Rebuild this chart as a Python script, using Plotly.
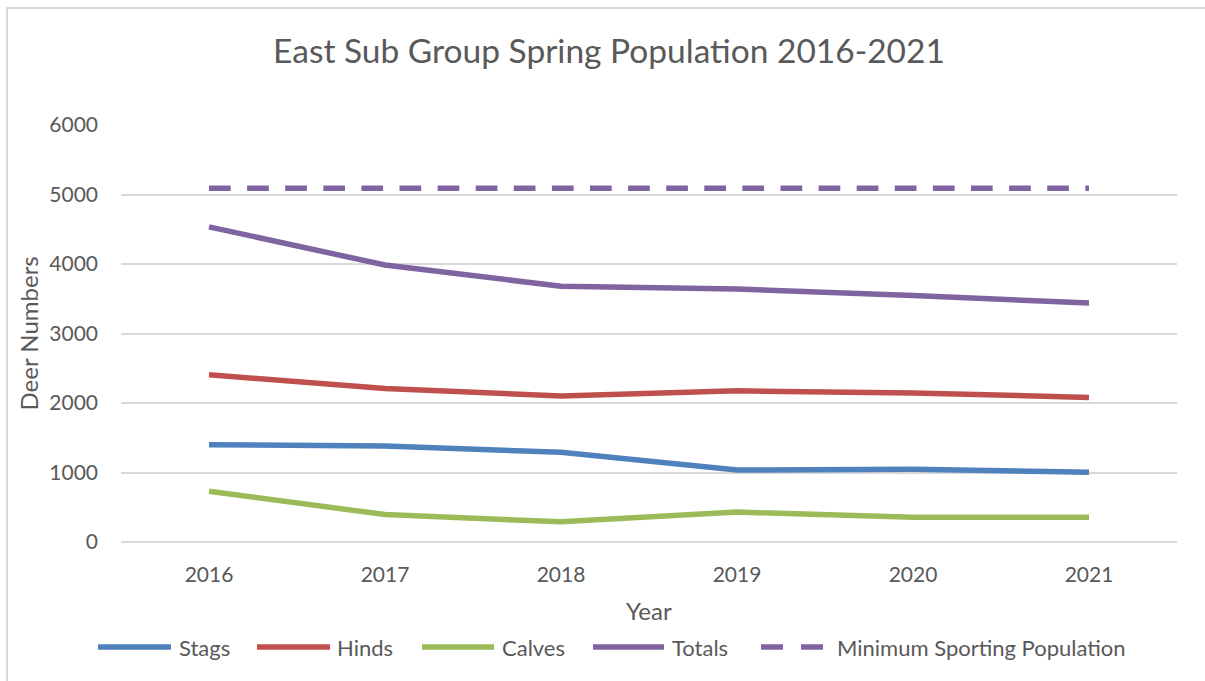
import plotly.graph_objects as go

# Spring counts for the East Sub Group, by year
years = ["2016", "2017", "2018", "2019", "2020", "2021"]
stags = [1400, 1380, 1290, 1035, 1045, 1005]
hinds = [2405, 2210, 2100, 2175, 2145, 2080]
calves = [730, 395, 290, 430, 355, 355]
totals = [4535, 3985, 3680, 3640, 3545, 3440]
min_sporting = [5090, 5090, 5090, 5090, 5090, 5090]

y_ticks = [0, 1000, 2000, 3000, 4000, 5000, 6000]

series_names = ["Stags", "Hinds", "Calves", "Totals", "Minimum Sporting Population"]
series_colors = ["#4F81BD", "#C0504D", "#9BBB59", "#8064A2", "#8064A2"]

W, H = 1205, 681
ML, MR, MT, MB = 121, 28, 125, 139
PW, PH = W - ML - MR, H - MT - MB

FONT = "Lato"
TEXT = "#595959"
GRID = "#D9D9D9"
LW = 5.5


def px_x(px):
    return (px - ML) / PW


def px_y(py):
    return (H - MB - py) / PH


fig = go.Figure()
for name, vals, col in zip(series_names[:4], [stags, hinds, calves, totals], series_colors[:4]):
    fig.add_trace(go.Scatter(x=years, y=vals, name=name, mode="lines",
                             line=dict(color=col, width=LW), showlegend=False))
fig.add_trace(go.Scatter(x=years, y=min_sporting, name=series_names[4], mode="lines",
                         line=dict(color=series_colors[4], width=LW, dash="21.7px,16.4px"),
                         showlegend=False))

shapes = [
    # chart outline
    dict(type="rect", xref="paper", yref="paper", x0=px_x(7), x1=px_x(1212),
         y0=px_y(692), y1=px_y(8), line=dict(color=GRID, width=2), layer="below"),
]
annotations = [
    dict(text="Deer Numbers", textangle=-90, x=px_x(28), y=0.5, xref="paper", yref="paper",
         xanchor="center", yanchor="middle", showarrow=False,
         font=dict(family=FONT, size=24, color=TEXT)),
    dict(text="Year", x=0.5, y=px_y(610), xref="paper", yref="paper",
         xanchor="center", yanchor="middle", showarrow=False,
         font=dict(family=FONT, size=24, color=TEXT)),
]

# legend row
leg_y = px_y(647)
leg_items = [
    (98, 171, 177),
    (257, 330, 335),
    (422, 494, 500),
    (593, 664, 670),
]
for (x0, x1, tx), name, col in zip(leg_items, series_names[:4], series_colors[:4]):
    shapes.append(dict(type="line", xref="paper", yref="paper", x0=px_x(x0), x1=px_x(x1),
                       y0=leg_y, y1=leg_y, line=dict(color=col, width=LW)))
    annotations.append(dict(text=name, x=px_x(tx), y=leg_y, xref="paper", yref="paper",
                            xanchor="left", yanchor="middle", showarrow=False,
                            font=dict(family=FONT, size=22, color=TEXT)))
for x0, x1 in [(761, 783), (801, 823)]:
    shapes.append(dict(type="line", xref="paper", yref="paper", x0=px_x(x0), x1=px_x(x1),
                       y0=leg_y, y1=leg_y, line=dict(color=series_colors[4], width=LW)))
annotations.append(dict(text=series_names[4], x=px_x(835), y=leg_y, xref="paper", yref="paper",
                        xanchor="left", yanchor="middle", showarrow=False,
                        font=dict(family=FONT, size=22, color=TEXT)))

fig.update_layout(
    width=W, height=H,
    margin=dict(l=ML, r=MR, t=MT, b=MB),
    paper_bgcolor="white", plot_bgcolor="white",
    title=dict(text="East Sub Group Spring Population 2016-2021",
               xref="container", yref="container", x=609 / W, y=1 - 51 / H,
               xanchor="center", yanchor="middle",
               font=dict(family=FONT, size=33.5, color=TEXT)),
    xaxis=dict(type="category", range=[-0.5, 5.5], showgrid=False, showline=False,
               zeroline=False, ticks="", ticklabelstandoff=18,
               tickfont=dict(family=FONT, size=21, color=TEXT)),
    yaxis=dict(range=[0, 6000], tickvals=y_ticks, showgrid=True, gridcolor=GRID, gridwidth=2,
               zeroline=True, zerolinecolor=GRID, zerolinewidth=2, showline=False,
               ticks="", ticklabelstandoff=22,
               tickfont=dict(family=FONT, size=21, color=TEXT)),
    shapes=shapes, annotations=annotations,
)

fig.write_html("out.html")
